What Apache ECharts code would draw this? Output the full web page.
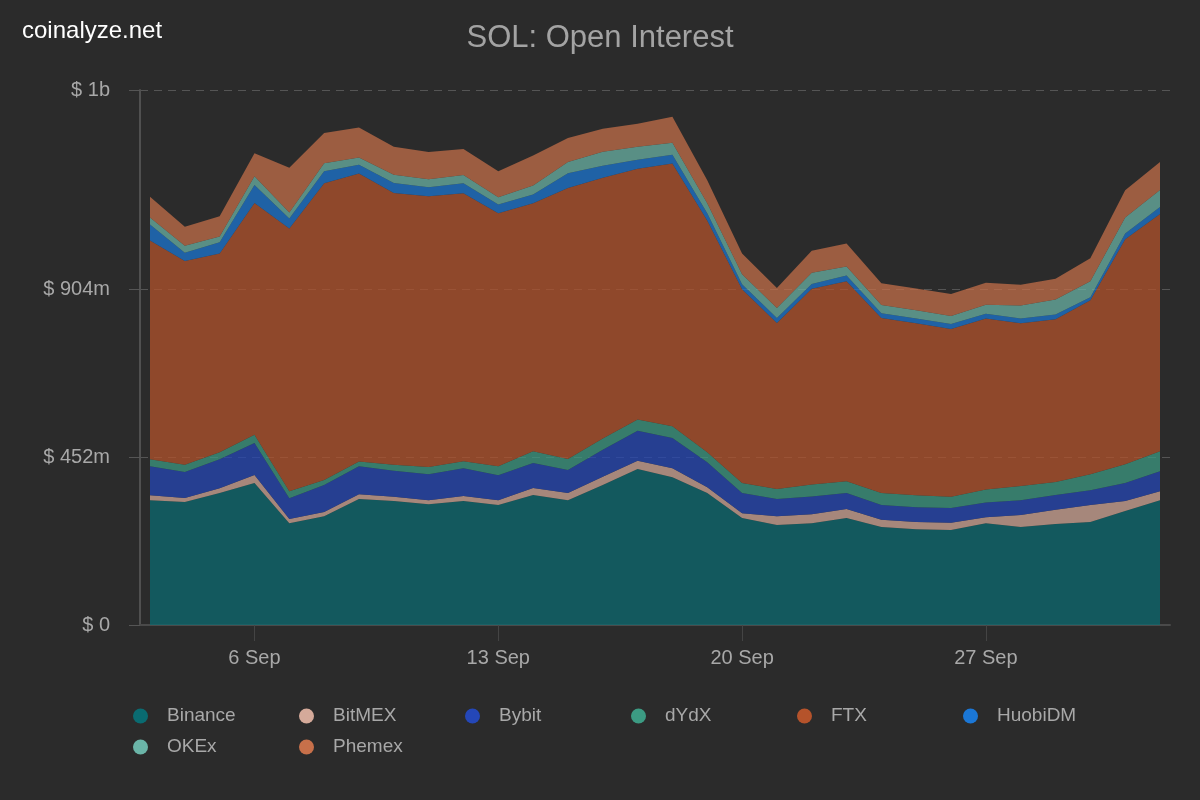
<!DOCTYPE html>
<html><head><meta charset="utf-8">
<script src="https://cdn.jsdelivr.net/npm/echarts@6/dist/echarts.min.js"></script>
<style>html,body{margin:0;padding:0;background:#2b2b2b}#c{width:1200px;height:800px}</style>
</head><body><div id="c"></div><script>
const dates = ['3 Sep','4 Sep','5 Sep','6 Sep','7 Sep','8 Sep','9 Sep','10 Sep','11 Sep','12 Sep','13 Sep','14 Sep','15 Sep','16 Sep','17 Sep','18 Sep','19 Sep','20 Sep','21 Sep','22 Sep','23 Sep','24 Sep','25 Sep','26 Sep','27 Sep','28 Sep','29 Sep','30 Sep','1 Oct','2 Oct'];
const binance = [336,331,355,382,274,293,339,334,325,334,323,350,336,377,420,398,355,288,269,274,288,264,258,256,274,264,272,277,307,336];
const bitmex  = [13,11,13,22,11,11,13,11,11,13,13,19,19,22,22,24,16,13,24,24,24,19,19,19,16,32,38,46,27,24];
const bybit   = [78,70,78,86,56,73,75,70,70,75,67,67,62,73,81,81,67,54,46,48,43,40,40,40,40,40,40,40,48,54];
const dydx    = [19,19,19,22,19,13,13,16,19,19,24,32,30,30,30,32,27,27,27,32,32,32,32,30,35,38,35,43,51,54];
const ftx     = [589,549,535,624,707,799,775,732,729,721,681,667,729,702,675,707,624,522,447,527,538,471,463,452,460,438,438,468,605,638];
const huobi   = [43,22,30,48,27,32,24,27,24,27,24,24,40,32,24,24,19,13,13,13,16,13,13,13,13,13,13,8,16,19];
const okex    = [19,19,16,24,16,22,19,22,22,22,19,24,30,38,35,32,27,27,27,30,24,22,22,22,24,35,40,43,43,46];
const phemex  = [56,51,54,62,121,81,81,75,73,70,70,81,65,62,62,70,62,56,54,59,62,59,59,59,59,56,56,62,73,75];

const seriesNames = ['Binance','BitMEX','Bybit','dYdX','FTX','HuobiDM','OKEx','Phemex'];
const seriesData = [binance,bitmex,bybit,dydx,ftx,huobi,okex,phemex];
const colors = ['#0a6b71','#d5aa9a','#2447b8','#3c9b83','#b5532b','#1b77d6','#6bb5a8','#c7704a'];

const xTickIdx = [3,10,17,24];
const yTickValues = [0,452,904,1440];
const yTickLabels = ['$ 0','$ 452m','$ 904m','$ 1b'];

const FONT = '"Liberation Sans", Arial, sans-serif';
const chart = echarts.init(document.getElementById('c'));
chart.setOption({
  backgroundColor: '#2b2b2b',
  animation: false,
  color: colors,
  title: [
    {text: 'SOL: Open Interest', left: 'center', top: 18,
     textStyle: {color: '#a3a3a3', fontSize: 31, fontWeight: 'normal', fontFamily: FONT}},
    {text: 'coinalyze.net', left: 17, top: 14,
     textStyle: {color: '#ffffff', fontSize: 24, fontWeight: 'normal', fontFamily: FONT}}
  ],
  grid: [
    {left: 140, right: 30, top: 90, bottom: 175, containLabel: false},
    {left: 150, right: 40, top: 90, bottom: 175, containLabel: false}
  ],
  legend: {
    left: 128, top: 701, width: 1010,
    itemWidth: 15, itemHeight: 15, itemGap: 11,
    icon: 'circle',
    data: seriesNames,
    textStyle: {color: '#a8a8a8', fontSize: 19, fontFamily: FONT, width: 121, lineHeight: 20, padding: [0,0,0,14]}
  },
  xAxis: [{
    gridIndex: 0, type: 'value', min: -0.287, max: 29.287,
    axisLine: {show: true, onZero: false, lineStyle: {color: '#4a4a4a', width: 2}},
    axisTick: {show: true, length: 16, customValues: xTickIdx, lineStyle: {color: '#444444', width: 1}},
    axisLabel: {customValues: xTickIdx, color: '#a8a8a8', fontSize: 20, fontFamily: FONT, margin: 23,
      formatter: v => dates[Math.round(v)]},
    splitLine: {show: false}
  }, {
    gridIndex: 1, type: 'category', data: dates, boundaryGap: false, show: false
  }],
  yAxis: [{
    gridIndex: 0, type: 'value', min: 0, max: 1440,
    axisLine: {show: true, onZero: false, lineStyle: {color: '#505050', width: 2}},
    axisTick: {show: true, length: 11, customValues: yTickValues, lineStyle: {color: '#555555'}},
    axisLabel: {customValues: yTickValues, color: '#a8a8a8', fontSize: 20, fontFamily: FONT, margin: 30,
      formatter: v => yTickLabels[yTickValues.indexOf(v)]},
    splitLine: {show: true, lineStyle: {color: '#555555', type: [8, 6], width: 1}}
  }, {
    gridIndex: 1, type: 'value', min: 0, max: 1440, show: false, splitLine: {show: false}
  }],
  series: seriesNames.map((name, k) => ({
    name, type: 'line', stack: 'oi', xAxisIndex: 1, yAxisIndex: 1,
    data: seriesData[k],
    showSymbol: false, symbol: 'none',
    lineStyle: {width: 0},
    itemStyle: {color: colors[k]},
    areaStyle: {color: colors[k], opacity: 0.72}
  }))
});
</script></body></html>
